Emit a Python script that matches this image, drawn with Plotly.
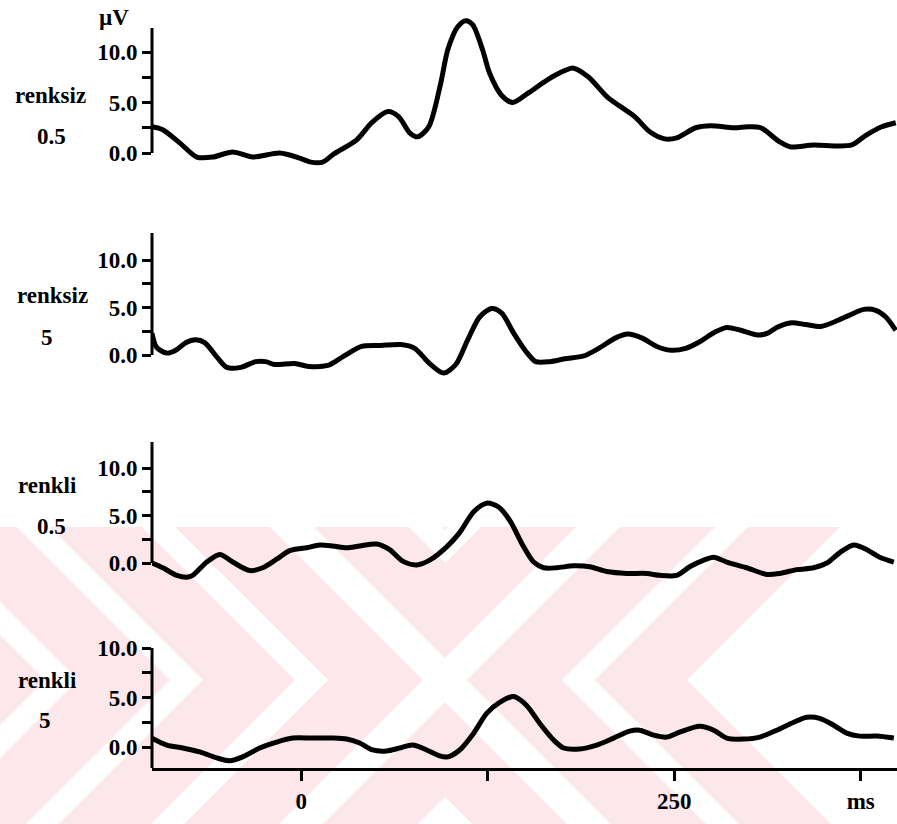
import plotly.graph_objects as go

# ---------------- data (time in ms, amplitude in µV) ----------------
t1 = [-100, -92.8, -81.4, -70.0, -59.3, -45.9, -32.5, -14.4, -1.0, 6.4, 14.4, 21.8, 37.2, 47.3,
      58.0, 65.3, 72.7, 78.1, 85.5, 93.5, 98.2, 104.9, 110.3, 114.9, 121.6, 126.3, 134.4, 141.8,
      151.8, 164.5, 177.3, 182.6, 192.7, 205.4, 223.5, 233.6, 243.6, 251.7, 264.4, 274.5, 289.9,
      299.9, 308.0, 320.7, 328.1, 343.5, 358.9, 369.0, 379.0, 389.1, 398.5]
v1 = [2.6, 2.3, 1.0, -0.4, -0.4, 0.1, -0.4, 0.0, -0.5, -0.9, -0.9, -0.1, 1.3, 3.0,
      4.1, 3.6, 2.0, 1.6, 2.6, 6.9, 10.2, 12.5, 13.1, 12.7, 10.2, 7.9, 5.7, 5.0,
      5.9, 7.2, 8.2, 8.4, 7.5, 5.5, 3.6, 2.1, 1.4, 1.5, 2.5, 2.7, 2.5,
      2.6, 2.5, 1.1, 0.6, 0.8, 0.7, 0.8, 1.8, 2.6, 3.0]

t2 = [-100, -96.9, -90.1, -84.1, -77.4, -70.7, -64.7, -56.6, -49.9, -40.5, -30.5, -23.8, -17.8,
      -4.4, 5.0, 17.8, 27.8, 40.5, 53.3, 66.7, 76.1, 86.1, 95.5, 103.6, 111.6, 119.6, 127.7,
      134.4, 142.4, 150.5, 157.2, 166.6, 176.6, 189.4, 199.4, 210.8, 218.9, 228.2, 238.3, 247.7,
      257.7, 267.1, 277.1, 285.2, 294.6, 306.0, 312.7, 318.7, 328.8, 338.2, 348.2, 357.6, 367.6,
      377.0, 385.1, 391.8, 398.5]
v2 = [2.3, 0.8, 0.2, 0.5, 1.3, 1.6, 1.3, -0.2, -1.3, -1.3, -0.7, -0.7, -1.0,
      -0.9, -1.2, -1.1, -0.2, 0.9, 1.0, 1.1, 0.7, -0.9, -1.9, -1.0, 1.6, 4.0, 4.9,
      4.4, 2.3, 0.4, -0.7, -0.7, -0.4, -0.1, 0.7, 1.8, 2.2, 1.8, 0.9, 0.5,
      0.7, 1.4, 2.4, 2.9, 2.6, 2.1, 2.3, 2.9, 3.4, 3.2, 3.0, 3.5, 4.2,
      4.8, 4.7, 4.0, 2.6]

t3 = [-100, -92.8, -83.4, -76.7, -72.7, -63.3, -54.6, -45.9, -34.5, -25.8, -16.4, -7.7, 3.7,
      12.4, 21.1, 30.5, 39.2, 50.6, 59.3, 68.0, 77.4, 86.1, 97.5, 106.2, 115.6, 124.3, 132.3,
      139.7, 149.1, 155.8, 162.5, 171.2, 182.6, 193.4, 204.8, 218.2, 231.6, 240.3, 251.7, 260.4,
      269.8, 276.5, 285.2, 298.6, 312.0, 320.7, 332.1, 343.5, 352.3, 361.0, 370.4, 379.1, 387.8,
      397.2]
v3 = [0.0, -0.5, -1.3, -1.5, -1.3, 0.1, 0.9, 0.1, -0.8, -0.5, 0.4, 1.3, 1.6,
      1.9, 1.8, 1.6, 1.8, 2.0, 1.4, 0.2, -0.2, 0.3, 1.7, 3.2, 5.4, 6.3, 5.9,
      4.5, 1.7, 0.1, -0.5, -0.5, -0.3, -0.4, -0.9, -1.1, -1.1, -1.3, -1.3, -0.4,
      0.3, 0.6, 0.1, -0.5, -1.2, -1.1, -0.7, -0.5, 0.0, 1.1, 1.9, 1.4, 0.6,
      0.1]

t4 = [-100, -90.1, -79.4, -68.0, -56.6, -47.9, -39.2, -27.8, -16.4, -5.7, 7.7, 21.1, 30.5,
      39.2, 47.9, 57.3, 66.0, 74.7, 84.1, 92.8, 98.2, 106.2, 115.6, 124.3, 133.0, 142.4, 151.1,
      159.8, 169.2, 175.9, 186.6, 198.0, 209.4, 220.1, 226.8, 236.2, 244.9, 253.6, 267.0, 276.5,
      285.2, 296.6, 307.3, 318.7, 330.1, 338.8, 347.5, 356.9, 365.6, 374.3, 385.7, 397.2]
v4 = [0.9, 0.2, -0.1, -0.5, -1.1, -1.4, -1.0, -0.1, 0.5, 0.9, 0.9, 0.9, 0.8,
      0.4, -0.3, -0.4, -0.1, 0.2, -0.3, -0.9, -1.0, -0.3, 1.4, 3.4, 4.5, 5.1, 4.2,
      2.4, 0.7, -0.1, -0.2, 0.2, 0.9, 1.6, 1.7, 1.2, 1.0, 1.5, 2.1, 1.7,
      0.9, 0.8, 1.0, 1.7, 2.5, 3.0, 2.9, 2.2, 1.4, 1.1, 1.1, 0.9]

cond1 = ["renksiz", "0.5"]
cond2 = ["renksiz", "5"]
cond3 = ["renkli", "0.5"]
cond4 = ["renkli", "5"]

y_tickvals = [0, 2.5, 5, 7.5, 10]
y_ticktext = ["0.0", "", "5.0", "", "10.0"]
x_tickvals = [0, 125, 250, 375]
x_ticktext = ["0", "", "250", "ms"]
unit_label = "µV"

# ---------------- layout helpers ----------------
W, H = 897, 824
FONT = "Liberation Serif"
X0PX = 152


def py(px):
    return 1 - px / H


def to_paper(pts):
    return "M " + " L ".join(f"{x / W:.5f} {py(y):.5f}" for x, y in pts) + " Z"


# (zero pixel, px per µV, domain top px, domain bottom px, axis-line top px)
panels = [
    (153, 10.1, 10, 175, 28),
    (355, 9.5, 215, 385, 233),
    (563, 9.5, 425, 595, 442),
    (747, 9.9, 600, 768, 648),
]
series = [(t1, v1), (t2, v2), (t3, v3), (t4, v4)]
conds = [cond1, cond2, cond3, cond4]

fig = go.Figure()

# ---------- faint pink watermark (striped X pattern) behind the lower panels ----------
PINK = "rgb(252,231,235)"
CX, CY = 445, 680          # centre of the X pattern (px)
WM_TOP = 527               # watermark top edge (px)
L = 1200


def chevron(a, b, wedge):
    if wedge == "left":
        p = [(-a, 0), (-(a + L), -L), (-(b + L), -L), (-b, 0), (-(b + L), L), (-(a + L), L)]
    elif wedge == "right":
        p = [(a, 0), (a + L, -L), (b + L, -L), (b, 0), (b + L, L), (a + L, L)]
    elif wedge == "top":
        p = [(0, -a), (L, -(a + L)), (L, -(b + L)), (0, -b), (-L, -(b + L)), (-L, -(a + L))]
    else:
        p = [(0, a), (L, a + L), (L, b + L), (0, b), (-L, b + L), (-L, a + L)]
    return [(CX + dx, CY + dy) for dx, dy in p]


shapes = []


def add_fill(pts, color):
    shapes.append(dict(type="path", path=to_paper(pts), xref="paper", yref="paper",
                       fillcolor=color, line=dict(width=0), layer="below"))


add_fill([(0, WM_TOP), (W, WM_TOP), (W, H + 40), (0, H + 40)], PINK)
for a, b in [(0, 22), (117, 150), (242, 275), (367, 400)]:
    for wdg in ("left", "right", "top", "bottom"):
        add_fill(chevron(a, b, wdg), "white")
add_fill(chevron(245, 2000, "right"), "white")
add_fill([(-10, -10), (W + 10, -10), (W + 10, WM_TOP), (-10, WM_TOP)], "white")

layout = dict(
    width=W, height=H, margin=dict(l=0, r=0, t=0, b=0),
    paper_bgcolor="white", plot_bgcolor="rgba(0,0,0,0)",
    showlegend=False,
    font=dict(family=FONT, size=23, color="black", weight="bold"),
)

x_range = [-100, -100 + (W - X0PX) / 1.492]
layout["xaxis"] = dict(
    domain=[X0PX / W, 1], range=x_range, anchor="y4",
    showgrid=False, zeroline=False, showline=True, linewidth=3, linecolor="black",
    ticks="outside", ticklen=10, tickwidth=3, tickcolor="black",
    tickvals=x_tickvals, ticktext=x_ticktext,
    tickfont=dict(family=FONT, size=23, color="black", weight="bold"),
)

for i, ((z, s, dtop, dbot, atop), (tt, vv), cond) in enumerate(zip(panels, series, conds)):
    k = "" if i == 0 else str(i + 1)
    rng = [(z - dbot) / s, (z - dtop) / s]
    layout["yaxis" + k] = dict(
        domain=[py(dbot), py(dtop)], range=rng, anchor="x",
        showgrid=False, zeroline=False, showline=False,
        ticks="outside", ticklen=9, tickwidth=3, tickcolor="black",
        tickvals=y_tickvals, ticktext=y_ticktext,
        tickfont=dict(family=FONT, size=23, color="black", weight="bold"),
    )
    ybot = 0 if i < 3 else rng[0]
    shapes.append(dict(type="line", xref="paper", yref="y" + k,
                       x0=X0PX / W, x1=X0PX / W, y0=ybot, y1=(z - atop) / s,
                       line=dict(color="black", width=3)))
    fig.add_trace(go.Scatter(
        x=tt, y=vv, xaxis="x", yaxis="y" + k, mode="lines",
        line=dict(color="black", width=5, shape="spline", smoothing=0.8),
        hoverinfo="skip",
    ))

# condition labels
label_pos = [((50, 95), (51, 137)), ((52, 295), (47, 337)),
             ((47, 486), (51, 526)), ((47, 680), (45, 720))]
ann = []
for (p1, p2), cond in zip(label_pos, conds):
    for (x, y), txt in zip((p1, p2), cond):
        ann.append(dict(text=txt, x=x / W, y=py(y), xref="paper", yref="paper",
                        showarrow=False, xanchor="center", yanchor="middle",
                        font=dict(family=FONT, size=23, color="black", weight="bold")))
ann.append(dict(text=unit_label, x=114 / W, y=py(18), xref="paper", yref="paper",
                showarrow=False, xanchor="center", yanchor="middle",
                font=dict(family=FONT, size=23, color="black", weight="bold")))

layout["shapes"] = shapes
layout["annotations"] = ann
fig.update_layout(**layout)
fig.write_html("out.html")
